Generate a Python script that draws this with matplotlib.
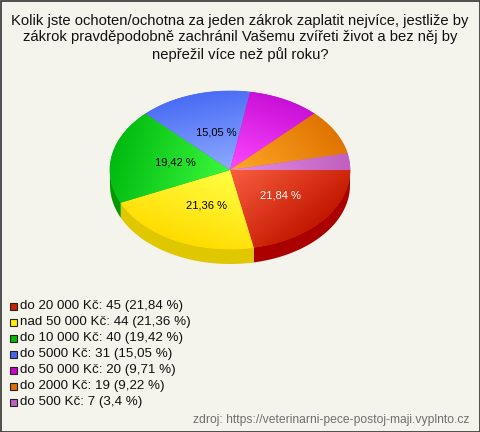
import numpy as np
import matplotlib
matplotlib.use("Agg")
import matplotlib.pyplot as plt
from matplotlib.patches import Polygon, Rectangle
from matplotlib.colors import LinearSegmentedColormap

plt.rcParams['font.family'] = ['Liberation Sans', 'DejaVu Sans']

# data
labels = ["do 20 000 Kč", "nad 50 000 Kč", "do 10 000 Kč", "do 5000 Kč",
          "do 50 000 Kč", "do 2000 Kč", "do 500 Kč"]
counts = [45, 44, 40, 31, 20, 19, 7]
percents = ["21,84", "21,36", "19,42", "15,05", "9,71", "9,22", "3,4"]

title = ("Kolik jste ochoten/ochotna za jeden zákrok zaplatit nejvíce, jestliže by\n"
         "zákrok pravděpodobně zachránil Vašemu zvířeti život a bez něj by\n"
         "nepřežil více než půl roku?")
source = "zdroj: https://veterinarni-pece-postoj-maji.vyplnto.cz"

# styles
light = ["#fa5e40", "#ffff45", "#3cf83c", "#8eaaff", "#ff48ff", "#ffa828", "#e48ee4"]
dark = ["#c21800", "#ffdc00", "#00ba10", "#4a6cf5", "#c810d8", "#e07400", "#c060c0"]
side = ["#aa0000", "#e0c800", "#009900", "#2a4cd0", "#aa00aa", "#b05000", "#a050a0"]
legend_col = ["#cc2200", "#ffee00", "#00bb00", "#4466ee", "#cc00cc", "#e07000", "#c060c0"]
text_col = ["white", "black", "black", "black", "black", "black", "black"]
bg = "#f4f3ec"

W, H = 480, 432
cx, cy = 230, 170
rx, ry = 120, 79
depth = 15

fig = plt.figure(figsize=(W / 100, H / 100), dpi=100, facecolor=bg)
ax = fig.add_axes([0, 0, 1, 1])
ax.set_xlim(0, W)
ax.set_ylim(H, 0)
ax.axis("off")
ax.add_patch(Rectangle((0.5, 0.5), W - 1, H - 1, fill=False, ec="#333333", lw=1.2))


def arc(t0, t1, dy=0, n=80):
  t = np.radians(np.linspace(t0, t1, n))
  return np.column_stack([cx + rx * np.cos(t), cy + dy + ry * np.sin(t)])


total = float(sum(counts))
angles = [0.0]
for c in counts:
  angles.append(angles[-1] + 360.0 * c / total)

# sides (front half only)
for i in range(len(counts)):
  a = max(angles[i], 0)
  b = min(angles[i + 1], 180)
  if b <= a:
    continue
  top = arc(a, b)
  bot = arc(b, a, dy=depth)
  ax.add_patch(Polygon(np.vstack([top, bot]), closed=True, fc=side[i], ec="none", zorder=1))

# tops with gradient
xs = np.linspace(cx - rx, cx + rx, 240)
ys = np.linspace(cy - ry, cy + ry, 160)
X, Y = np.meshgrid(xs, ys)
for i in range(len(counts)):
  pts = np.vstack([[cx, cy], arc(angles[i], angles[i + 1])])
  poly = Polygon(pts, closed=True, fc=dark[i], ec=dark[i], lw=0.5, zorder=1)
  ax.add_patch(poly)
  mid = np.radians((angles[i] + angles[i + 1]) / 2)
  proj = ((X - cx) / rx) * np.cos(mid) + ((Y - cy) / ry) * np.sin(mid)
  proj = np.clip(proj, 0, 1)
  cmap = LinearSegmentedColormap.from_list("g%d" % i, [light[i], dark[i]])
  im = ax.imshow(proj, cmap=cmap, vmin=0, vmax=1, extent=(xs[0], xs[-1], ys[-1], ys[0]),
                 origin="upper", interpolation="bilinear", aspect="auto", zorder=2)
  im.set_clip_path(poly)

# slice labels
for i in range(len(counts)):
  if counts[i] / total < 0.1:
    continue
  mid = np.radians((angles[i] + angles[i + 1]) / 2)
  tx = cx + 0.5 * rx * np.cos(mid) + 4
  ty = cy + 0.5 * ry * np.sin(mid)
  ax.text(tx, ty, percents[i] + " %", color=text_col[i], fontsize=8,
          ha="center", va="center", zorder=5)

ax.set_xlim(0, W)
ax.set_ylim(H, 0)

# title
ax.text(240, 38, title, ha="center", va="center", fontsize=10.6, linespacing=1.2,
        color="#111111")

# legend
ly = 306
for i in range(len(labels)):
  ax.add_patch(Rectangle((10, ly + 16 * i - 3.5), 7, 7, fc=legend_col[i],
                         ec="#222222", lw=0.8))
  ax.text(20, ly + 16 * i, "%s: %d (%s %%)" % (labels[i], counts[i], percents[i]),
          fontsize=9.6, va="center", ha="left", color="#111111")

ax.text(469, 420, source, fontsize=8.7, color="#707070", ha="right", va="center")

fig.savefig("out.png", dpi=100, facecolor=bg)
